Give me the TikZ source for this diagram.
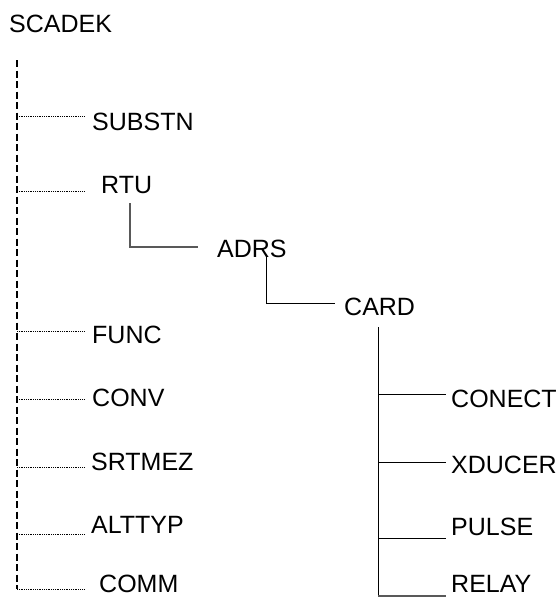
\documentclass[tikz,border=0pt]{standalone}
\usepackage{fontspec}
\setmainfont{Liberation Sans}
\begin{document}
\begin{tikzpicture}[x=1pt,y=-1pt,
  lbl/.style={anchor=base west,inner sep=0pt,font=\fontsize{25}{29}\selectfont},
  trunk/.style={line width=1.6pt,dash pattern=on 7pt off 3.5pt},
  dotbr/.style={line width=0.8pt,dash pattern=on 0.9pt off 0.9pt},
  solidbr/.style={line width=1pt,black},
  graybr/.style={line width=1.2pt,black!65}]
\useasboundingbox (0,0) rectangle (559,598);
% labels
\node[lbl] (scadek) at (9,32) {SCADEK};
\node[lbl] (substn) at (92,130) {SUBSTN};
\node[lbl] (rtu) at (101,193) {RTU};
\node[lbl] (adrs) at (217,257) {ADRS};
\node[lbl] (card) at (344,315) {CARD};
\node[lbl] (func) at (92,343) {FUNC};
\node[lbl] (conv) at (92,406) {CONV};
\node[lbl] (srtmez) at (91,470) {SRTMEZ};
\node[lbl] (alttyp) at (91,533) {ALTTYP};
\node[lbl] (comm) at (99,592) {COMM};
\node[lbl] (conect) at (451,407) {CONECT};
\node[lbl] (xducer) at (451,473) {XDUCER};
\node[lbl] (pulse) at (451,535) {PULSE};
\node[lbl] (relay) at (451,592) {RELAY};
% trunk
\coordinate (ttop) at (17,60);
\coordinate (tbot) at (17,589);
\draw[trunk] (ttop) -- (tbot);
% dotted branches
\foreach \y/\n in {116/a,191/b,331/c,399/d,467/e,534/f,589/g}{
  \coordinate (s\n) at (17,\y);
  \coordinate (e\n) at (84,\y);
  \draw[dotbr] (s\n) -- (e\n);
}
% RTU -> ADRS
\coordinate (r1) at (130,203);
\coordinate (r2) at (198,247);
\draw[graybr] (r1) |- (r2);
% ADRS -> CARD
\coordinate (a1) at (266,257);
\coordinate (a2) at (335,303);
\draw[solidbr] (a1) |- (a2);
% CARD children
\coordinate (c1) at (378,327);
\coordinate (c2) at (378,596);
\draw[solidbr] (c1) -- (c2);
\coordinate (k1) at (446,394);
\coordinate (k2) at (446,462);
\coordinate (k3) at (446,538);
\coordinate (k4) at (446,596);
\draw[solidbr] (c1 |- k1) -- (k1);
\draw[solidbr] (c1 |- k2) -- (k2);
\draw[solidbr] (c1 |- k3) -- (k3);
\draw[graybr] (c2) -- (k4);
\end{tikzpicture}
\end{document}
